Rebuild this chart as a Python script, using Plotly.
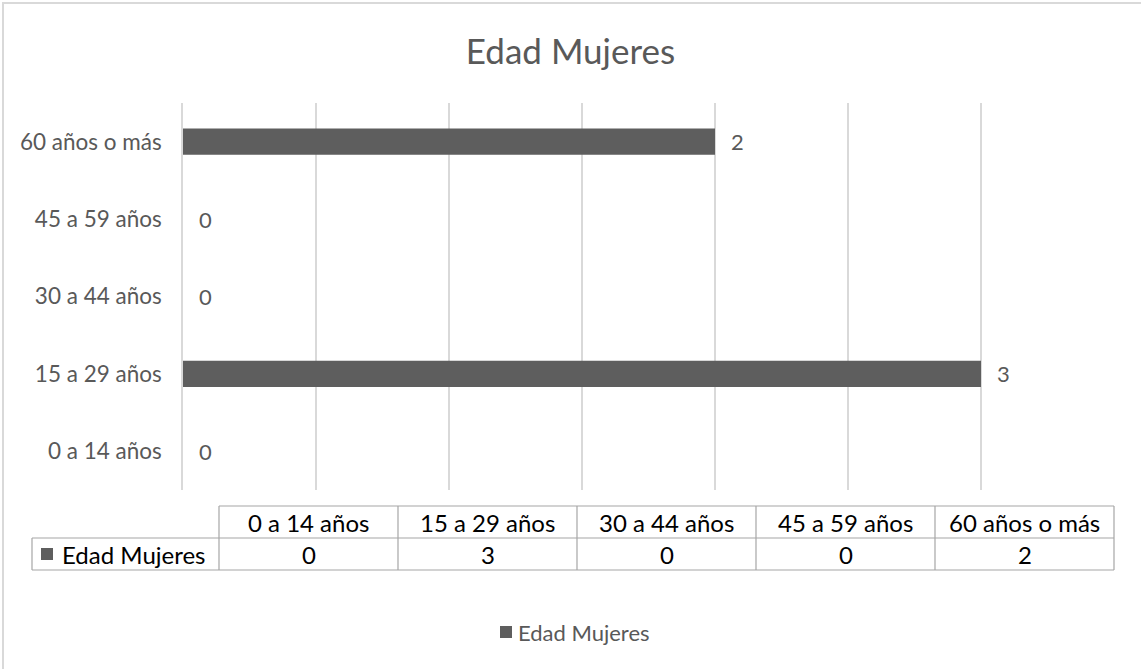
import plotly.graph_objects as go

categories = ["0 a 14 años", "15 a 29 años", "30 a 44 años", "45 a 59 años", "60 años o más"]
values = [0, 3, 0, 0, 2]
series_name = "Edad Mujeres"
title_text = "Edad Mujeres"

W, H = 1141, 669
L, R, T, B = 183, 1114, 103, 490
BAR = "#5e5e5e"
GRAY = "#595959"
FONT = "Lato"

def px(x):
    return (x - L) / (R - L)

def py(y):
    return (B - y) / (B - T)

fig = go.Figure()
fig.add_trace(go.Bar(
    x=values, y=categories, orientation="h", name=series_name,
    marker=dict(color=BAR, line=dict(width=0)),
    hoverinfo="x+y", showlegend=False,
))

annotations = []
for c, v in zip(categories, values):
    annotations.append(dict(x=v, y=c, xref="x", yref="y", text=str(v), showarrow=False,
                            xanchor="left", yanchor="middle", xshift=14,
                            font=dict(family=FONT, size=22, color=GRAY)))

shapes = []
shapes.append(dict(type="rect", xref="paper", yref="paper", x0=px(3), x1=px(1150), y0=py(680), y1=py(3),
                   line=dict(color="#d9d9d9", width=2), layer="below"))

tbl_left, col0, tbl_right = 32, 219, 1114
r0, r1, r2 = 506, 538, 570
n = len(categories)
colw = (tbl_right - col0) / n
bc = "#a6a6a6"

def hline(x0, x1, y):
    shapes.append(dict(type="line", xref="paper", yref="paper", x0=px(x0), x1=px(x1), y0=py(y), y1=py(y),
                       line=dict(color=bc, width=1.2)))

def vline(x, y0, y1):
    shapes.append(dict(type="line", xref="paper", yref="paper", x0=px(x), x1=px(x), y0=py(y0), y1=py(y1),
                       line=dict(color=bc, width=1.2)))

hline(col0, tbl_right, r0)
hline(tbl_left, tbl_right, r1)
hline(tbl_left, tbl_right, r2)
vline(tbl_left, r1, r2)
for i in range(n + 1):
    vline(col0 + i * colw, r0, r2)

# legend-key squares drawn as small shapes
def key_square(x, yc, s=12):
    shapes.append(dict(type="rect", xref="paper", yref="paper", x0=px(x), x1=px(x + s),
                       y0=py(yc + s / 2), y1=py(yc - s / 2), line=dict(width=0), fillcolor=BAR))

tfont = dict(family=FONT, size=24, color="#000000")
for i, (c, v) in enumerate(zip(categories, values)):
    cx = px(col0 + (i + 0.5) * colw)
    annotations.append(dict(x=cx, y=py((r0 + r1) / 2), xref="paper", yref="paper", text=c, showarrow=False,
                            xanchor="center", yanchor="middle", font=tfont))
    annotations.append(dict(x=cx, y=py((r1 + r2) / 2), xref="paper", yref="paper", text=str(v), showarrow=False,
                            xanchor="center", yanchor="middle", font=tfont))
key_square(41, 554)
annotations.append(dict(x=px(60), y=py((r1 + r2) / 2), xref="paper", yref="paper", xanchor="left", yanchor="middle",
                        text=series_name, showarrow=False, font=tfont))

# legend (drawn as text + square so spacing matches)
key_square(500, 632)
annotations.append(dict(x=px(516), y=py(632), xref="paper", yref="paper", xanchor="left", yanchor="middle",
                        text=series_name, showarrow=False,
                        font=dict(family=FONT, size=22, color=GRAY)))

fig.update_layout(
    width=W, height=H,
    margin=dict(l=L, r=W - R, t=T, b=H - B, pad=0),
    paper_bgcolor="white", plot_bgcolor="white",
    title=dict(text=title_text, x=0.5, xref="container", xanchor="center", y=1 - 52 / H, yref="container",
               yanchor="middle", font=dict(family=FONT, size=35, color=GRAY)),
    xaxis=dict(range=[0, 3.5], dtick=0.5, tick0=0, showticklabels=False, showgrid=True,
               gridcolor="#d9d9d9", gridwidth=1.5, zeroline=False, showline=False, fixedrange=True),
    yaxis=dict(categoryorder="array", categoryarray=categories, showgrid=False, zeroline=False,
               showline=True, linecolor="#d9d9d9", linewidth=1.5, ticks="", ticklabelstandoff=15,
               tickfont=dict(family=FONT, size=22.5, color=GRAY), fixedrange=True),
    bargap=0.66,
    showlegend=False,
    annotations=annotations,
    shapes=shapes,
)

fig.write_html("out.html", config={"displayModeBar": False},
               post_script="document.body.style.margin='0';")
